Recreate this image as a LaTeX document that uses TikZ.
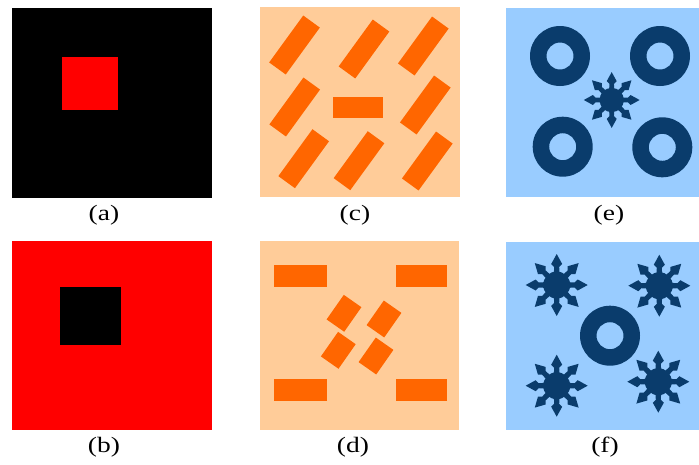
\documentclass[tikz,border=0pt]{standalone}
\usepackage{fontspec}
\setmainfont{Liberation Serif}
\definecolor{peach}{HTML}{FFCC99}
\definecolor{orng}{HTML}{FF6600}
\definecolor{lblue}{HTML}{99CCFF}
\definecolor{navy}{HTML}{0A3C6C}
\tikzset{
  bar/.style={fill=orng, inner sep=0pt, outer sep=0pt, minimum width=#1},
  bar/.default=58pt,
  lab/.style={font=\fontsize{22}{26}\selectfont, inner sep=0pt},
}
\newcommand\myring[2]{\fill[navy,even odd rule] (#1,#2) circle (30pt) (#1,#2) circle (13.5pt);}
\newcommand\mystar[3]{%
  \begin{scope}[shift={(#1,#2)},scale=#3]
    \fill[navy] (0,0) circle (13.5pt);
    \foreach \a in {0,45,...,315}{
      \fill[navy,rotate=\a] (9pt,-3pt) -- (18pt,-2.5pt) -- (21pt,-5.5pt) -- (31pt,0pt) -- (21pt,5.5pt) -- (18pt,2.5pt) -- (9pt,3pt) -- cycle;
    }
  \end{scope}}
\begin{document}
\begin{tikzpicture}[x=1pt,y=-1pt]
\useasboundingbox (0,0) rectangle (699,464);
% (a)
\fill[black] (12,8) rectangle (212,198);
\fill[red] (62,57) rectangle (118,110);
\node[lab] (la) at (104,215) {\scalebox{1.25}[1]{(a)}};
% (b)
\fill[red] (12,241) rectangle (212,430);
\fill[black] (60,287) rectangle (121,345);
\node[lab] (lb) at (104,447) {\scalebox{1.25}[1]{(b)}};
% (c)
\fill[peach] (260,7) rectangle (460,197);
\foreach \x/\y [count=\i] in {294.5/45, 364/49, 423.3/46, 294.7/107, 425.3/105, 303.7/158.7, 359/160.7, 427.3/161}{
  \node[bar, minimum height=20.5pt, rotate=54] (c\i) at (\x,\y) {};
}
\node[bar=50pt, minimum height=21pt] (cm) at (357.5,107.2) {};
\node[lab] (lc) at (355,215) {\scalebox{1.25}[1]{(c)}};
% (d)
\fill[peach] (260,241) rectangle (459,430);
\node[bar=53pt, minimum height=21.5pt] (d1) at (300,275.8) {};
\node[bar=51pt, minimum height=21.5pt] (d2) at (421.7,275.8) {};
\node[bar=53pt, minimum height=21.5pt] (d3) at (300,390.2) {};
\node[bar=51pt, minimum height=21.5pt] (d4) at (421.7,390.2) {};
\foreach \x/\y [count=\i] in {344/313.3, 384/319, 338.3/350.3, 376/356}{
  \node[bar=30pt, minimum height=21.5pt, rotate=55] (s\i) at (\x,\y) {};
}
\node[lab] (ld) at (353,447) {\scalebox{1.25}[1]{(d)}};
% (e)
\fill[lblue] (506,8) rectangle (699,197);
\myring{560}{56}
\myring{660}{56}
\myring{562.7}{146.7}
\myring{662.3}{147.3}
\mystar{611.7}{100}{0.9}
\node[lab] (le) at (609,215) {\scalebox{1.25}[1]{(e)}};
% (f)
\fill[lblue] (506,241.7) rectangle (699,430);
\mystar{556.7}{285}{1}
\mystar{659.3}{285.7}{1}
\mystar{556.7}{385.7}{1}
\mystar{658.3}{381.7}{1}
\myring{610}{335.7}
\node[lab] (lf) at (605,447) {\scalebox{1.25}[1]{(f)}};
\end{tikzpicture}
\end{document}
